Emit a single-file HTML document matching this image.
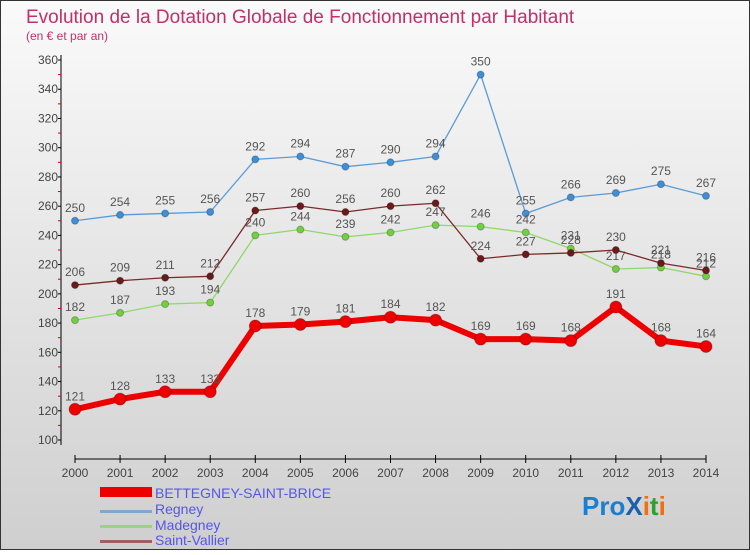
<!DOCTYPE html>
<html><head><meta charset="utf-8"><style>
body{margin:0}
svg{font-family:"Liberation Sans",sans-serif}
</style></head><body>
<svg width="750" height="550" viewBox="0 0 750 550">
<defs><linearGradient id="bg" x1="0" y1="0" x2="0" y2="1"><stop offset="0" stop-color="#fafafa"/><stop offset="1" stop-color="#cfcfcf"/></linearGradient></defs>
<rect x="0.5" y="0.5" width="749" height="549" fill="url(#bg)" stroke="#333"/>
<text x="26" y="23" font-size="19" fill="#c0306a">Evolution de la Dotation Globale de Fonctionnement par Habitant</text>
<text x="26" y="40" font-size="12" fill="#c0306a">(en € et par an)</text>
<g id="axes"></g><g id="series"></g>
<g font-size="14" fill="#5555ee">
<rect x="100" y="487" width="52" height="10" fill="#e00"/>
<text x="155" y="498">BETTEGNEY-SAINT-BRICE</text>
<rect x="100" y="510" width="52" height="3" fill="#7fa9cc"/>
<text x="155" y="514">Regney</text>
<rect x="100" y="525" width="52" height="3" fill="#9fd080"/>
<text x="155" y="530">Madegney</text>
<rect x="100" y="540" width="52" height="3" fill="#a06060"/>
<text x="155" y="545">Saint-Vallier</text>
</g>
<text x="582" y="515" font-size="26" font-weight="bold"><tspan fill="#1a7fd0">Pro</tspan><tspan fill="#1a5fb0">X</tspan><tspan fill="#f07010">i</tspan><tspan fill="#30a030">t</tspan><tspan fill="#f07010">i</tspan></text>
</svg>
<script>
const years=[2000,2001,2002,2003,2004,2005,2006,2007,2008,2009,2010,2011,2012,2013,2014];
const yTicks=[100,120,140,160,180,200,220,240,260,280,300,320,340,360];
const bettegney=[121,128,133,133,178,179,181,184,182,169,169,168,191,168,164];
const regney=[250,254,255,256,292,294,287,290,294,350,255,266,269,275,267];
const madegney=[182,187,193,194,240,244,239,242,247,246,242,231,217,218,212];
const saintVallier=[206,209,211,212,257,260,256,260,262,224,227,228,230,221,216];
const NS="http://www.w3.org/2000/svg";
const X=i=>75+i*(706-75)/14;
const Y=v=>440-(v-100)*(380/260);
function mk(t,a,p){const e=document.createElementNS(NS,t);for(const k in a)e.setAttribute(k,a[k]);p.appendChild(e);return e;}
const ax=document.getElementById('axes');
let l=mk('line',{x1:61,y1:55,x2:61,y2:445,stroke:'#000'},ax);

l=mk('line',{x1:75,y1:459,x2:706,y2:459,stroke:'#000'},ax);

yTicks.forEach(v=>{const t=mk('text',{x:58,y:Y(v)+4,'font-size':12,'text-anchor':'end',fill:'#444'},ax);t.textContent=v;

mk('line',{x1:58,y1:Y(v),x2:61,y2:Y(v),stroke:'#000'},ax);
if(v<360){mk('line',{x1:58,y1:Y(v+10),x2:61,y2:Y(v+10),stroke:'#d00'},ax);}});
years.forEach((y,i)=>{mk('line',{x1:X(i),y1:455,x2:X(i),y2:463,stroke:'#000'},ax);
const t=mk('text',{x:X(i),y:477,'font-size':12,'text-anchor':'middle',fill:'#444'},ax);t.textContent=y;
});
const sg=document.getElementById('series');
function series(d,name,col,w,r,dot){const g=mk('g',{},sg);

const p=mk('polyline',{points:d.map((v,i)=>X(i)+','+Y(v)).join(' '),fill:'none',stroke:col,'stroke-width':w,'stroke-linejoin':'round'},g);

d.forEach((v,i)=>{const c=mk('circle',{cx:X(i),cy:Y(v),r:r,fill:dot,stroke:'rgba(0,0,0,0.25)'},g);

const t=mk('text',{x:X(i),y:Y(v)-9,'font-size':12,'text-anchor':'middle',fill:'#555'},g);t.textContent=v;
});}
series(regney,'regney','#5b9bd5',1.3,3.5,'#3d8fd8');
series(madegney,'madegney','#8fd86a',1.3,3.5,'#72d040');
series(saintVallier,'saint-vallier','#7a2a2a',1.3,3.5,'#6a1a1a');
series(bettegney,'bettegney','#ee0000',6,6,'#ee0000');
</script>
</body></html>
